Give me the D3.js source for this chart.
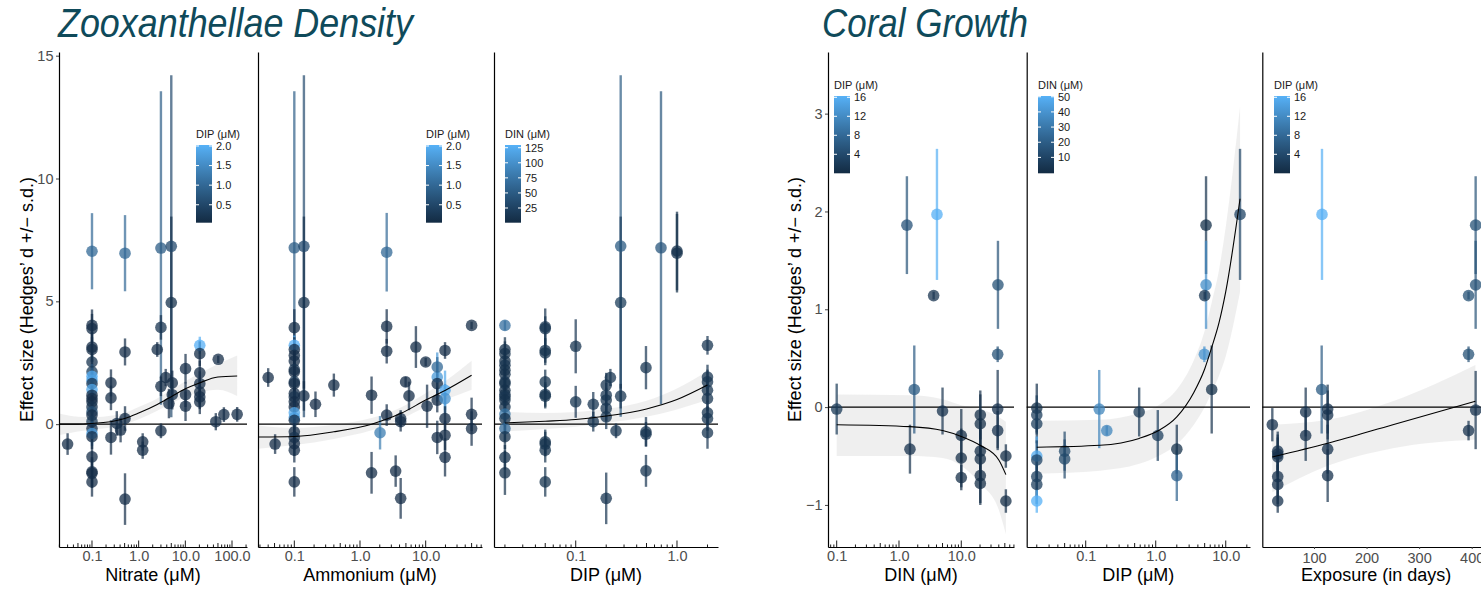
<!DOCTYPE html>
<html>
<head>
<meta charset="utf-8">
<script src="https://cdn.jsdelivr.net/npm/d3@7"></script>
<style>
  body { margin: 0; background: #fff; }
  svg { display: block; }
  text { font-family: "Liberation Sans", Arial, sans-serif; }
</style>
</head>
<body>
<svg id="chart" width="1481" height="589"></svg>
<script>
// ---------- data: Zooxanthellae density ----------
// nitrate panel (colour = DIP)
const nitrateX = [0.1,0.51,3.0,5.0,5.0,
  0.1,0.1,0.1,0.1,0.1,0.1,0.1,0.1,0.1,0.1,0.1,0.1,0.1,0.1,0.1,0.1,0.1,0.1,0.1,0.1,0.1,0.1,0.1,0.1,
  0.03,0.255,0.255,0.255,0.34,0.41,0.51,0.51,0.51,1.22,1.22,2.5,3.0,3.0,3.0,3.8,4.45,5.25,5.25,
  10.1,10.1,10.1,20.4,20.4,20.4,20.4,20.4,20.4,20.4,50.7,45,67,129];
const nitrateES = [7.04,6.96,7.17,7.24,4.95,
  4.02,3.89,3.14,3.04,2.53,2.13,1.95,1.79,1.65,1.41,1.18,1.04,0.91,0.70,0.50,0.37,0.10,-0.18,-0.38,-0.51,-1.33,-1.94,-2.0,-2.35,
  -0.81,1.68,1.07,-0.54,0.03,-0.24,0.23,2.94,-3.05,-0.72,-1.06,3.04,3.94,1.54,-0.27,1.9,0.84,1.68,1.2,
  2.26,1.2,0.73,3.21,2.87,2.09,1.65,1.31,1.11,0.91,2.64,0.1,0.39,0.4];
const nitrateSD = [1.55,1.55,6.38,6.96,3.5,
  0.65,0.6,0.6,0.5,0.5,0.5,0.5,0.5,0.5,0.5,0.5,0.5,0.5,0.5,0.5,0.5,0.5,0.5,0.5,0.5,0.6,0.6,0.6,0.6,
  0.44,0.55,0.5,0.7,0.5,0.5,0.5,0.55,1.05,0.35,0.35,0.3,0.5,0.4,0.3,0.35,0.6,0.5,0.6,
  0.6,0.5,0.6,0.35,0.5,0.5,0.5,0.5,0.5,0.5,0.15,0.35,0.3,0.3];
const nitrateDIP = [1.0,1.0,0.85,0.55,0.15,
  0.1,0.1,0.1,0.1,0.2,0.3,2.0,1.8,0.2,1.9,0.1,0.1,0.1,0.2,0.6,0.1,0.3,0.1,1.8,0.1,0.1,0.1,0.1,0.1,
  0.1,0.1,0.1,0.1,0.1,0.1,0.1,0.1,0.1,0.1,0.1,0.1,0.2,0.1,0.1,0.1,0.1,0.1,0.1,
  0.1,0.1,0.1,2.0,0.1,0.1,0.1,0.1,0.1,0.1,0.1,0.1,0.1,0.1];
const nitrateFitX = [0.0196,0.05,0.1,0.3,0.5,1,2.5,5,10,20,50,129];
const nitrateFit  = [0.0,0.0,0.03,0.13,0.23,0.45,0.8,1.12,1.44,1.68,1.92,1.96];
const nitrateLo   = [-0.45,-0.3,-0.22,-0.1,0.0,0.2,0.55,0.85,1.12,1.3,1.4,1.15];
const nitrateHi   = [0.43,0.3,0.28,0.36,0.46,0.7,1.05,1.4,1.75,2.05,2.45,2.8];

// ammonium panel (colour = DIP)
const ammoniumX = [0.1,0.14,0.14,2.55,
  0.1,0.1,0.1,0.1,0.1,0.1,0.1,0.1,0.1,0.1,0.1,0.1,0.1,0.1,0.1,0.1,0.1,0.1,0.1,0.1,0.1,
  0.04,0.051,0.14,0.21,0.40,1.5,1.5,2.02,2.55,2.55,2.55,3.49,4.16,4.16,4.16,4.95,5.57,7.1,10.0,10.5,
  15,15,15,15,15,19.7,19.7,19.7,19.7,19.7,19.7,50,50,50];
const ammoniumES = [7.18,7.24,4.95,7.0,
  3.93,3.21,3.04,2.8,2.57,2.22,2.13,1.72,1.65,1.25,1.11,0.91,0.70,0.46,0.27,0.16,-0.31,-0.54,-0.79,-1.06,-2.35,
  1.9,-0.81,1.15,0.81,1.59,1.18,-1.98,-0.35,3.98,2.97,0.37,-1.91,-3.02,0.23,0.1,1.72,1.15,3.14,2.53,0.73,
  1.92,2.33,1.65,0.98,-0.54,3.0,1.38,1.04,0.23,-0.45,-1.35,4.02,0.4,-0.18];
const ammoniumSD = [6.37,6.96,3.5,1.6,
  0.75,0.4,0.5,0.5,0.5,0.5,0.5,0.5,0.5,0.5,0.5,0.5,0.5,0.5,0.5,0.5,0.5,0.5,0.5,0.5,0.6,
  0.38,0.4,0.6,0.52,0.47,0.76,0.85,0.68,0.7,0.5,0.44,0.64,0.83,0.34,0.4,0.2,0.58,0.85,0.17,0.88,
  1.0,0.4,0.5,0.5,0.68,0.34,0.8,0.6,0.5,0.6,0.78,0.15,0.68,0.7];
const ammoniumDIP = [0.85,0.55,0.15,1.0,
  0.1,2.0,0.1,0.1,0.1,0.2,0.1,0.3,0.1,0.1,0.2,0.1,0.1,1.9,1.8,0.1,0.1,0.2,0.1,0.1,0.1,
  0.1,0.1,0.1,0.1,0.1,0.1,0.1,1.3,0.1,0.1,0.1,0.1,0.1,0.1,0.1,0.1,0.1,0.1,0.1,0.1,
  1.7,1.0,0.1,0.1,0.1,0.1,1.9,1.6,0.1,0.1,0.1,0.1,0.1,0.1];
const ammoniumFitX = [0.028,0.1,0.4,1.5,4.2,10,20,50];
const ammoniumFit  = [-0.52,-0.5,-0.31,0.0,0.44,0.98,1.38,1.99];
const ammoniumLo   = [-1.0,-0.85,-0.6,-0.25,0.2,0.7,1.0,1.4];
const ammoniumHi   = [-0.05,-0.15,-0.02,0.25,0.68,1.26,1.76,2.58];

// DIP panel (colour = DIN)
const zDipX = [0.278,0.278,0.695,1.0,1.0,
  0.02,0.02,0.02,0.02,0.02,0.02,0.02,0.02,0.02,0.02,0.02,0.02,0.02,0.02,0.02,0.02,0.02,0.02,0.02,0.02,
  0.05,0.05,0.05,0.05,0.05,0.05,0.05,0.05,0.05,0.05,0.05,
  0.1,0.1,0.149,0.149,0.2,0.2,0.2,0.2,0.2,0.2,0.22,0.25,0.278,0.494,0.494,0.494,0.494,
  2.0,2.0,2.0,2.0,2.0,2.0,2.0,2.0];
const zDipES = [7.25,4.95,7.18,7.05,6.96,
  4.02,3.04,2.87,2.57,2.4,2.2,2.03,1.72,1.65,1.38,1.21,1.11,0.98,0.7,0.41,0.23,-0.18,-0.51,-1.35,-1.98,
  3.96,3.89,3.0,2.9,1.72,1.21,1.14,-0.72,-0.81,-1.06,-2.35,
  3.17,0.91,0.81,0.1,1.59,1.18,0.98,0.64,0.3,-3.02,1.9,-0.27,1.14,2.3,-0.31,-0.41,-1.9,
  3.21,1.92,1.72,1.38,1.04,0.46,0.23,-0.35];
const zDipSD = [6.95,3.5,6.37,1.6,1.6,
  0.2,0.5,0.5,0.5,0.5,0.5,0.5,0.5,0.5,0.5,0.5,0.5,0.5,0.5,0.5,0.5,0.5,0.5,0.5,0.9,
  0.75,0.5,0.5,0.5,0.5,0.5,0.5,0.5,0.5,0.5,0.6,
  1.1,0.65,0.5,0.4,0.5,0.5,0.5,0.5,0.5,1.05,0.35,0.3,0.5,0.88,0.6,0.5,0.65,
  0.38,0.5,0.5,0.5,0.5,0.5,0.5,0.65];
const zDipDIN = [50,20,45,8,8,
  70,8,8,8,12,8,8,12,8,8,8,12,8,8,75,8,65,8,8,8,
  12,12,10,10,10,12,10,10,10,10,10,
  12,12,12,12,12,12,12,12,12,12,12,12,12,12,12,12,12,
  12,12,12,12,12,12,12,12];
const zDipFitX = [0.02,0.05,0.1,0.2,0.5,1.0,2.0];
const zDipFit  = [0.05,0.12,0.19,0.33,0.62,1.0,1.59];
const zDipLo   = [-0.3,-0.2,-0.1,0.05,0.3,0.6,0.98];
const zDipHi   = [0.5,0.45,0.5,0.62,0.95,1.45,2.15];

// ---------- data: Coral growth ----------
// DIN panel (colour = DIP)
const gDinX = [1.34,4.07,3.6,38.8,0.1,1.5,1.76,5.0,10,10,10,20.2,20.2,20.2,20.2,20.2,20.2,38.4,38.4,38.4,52,52];
const gDinES = [1.86,1.97,1.14,1.25,-0.02,-0.43,0.18,-0.04,-0.29,-0.52,-0.72,-0.08,-0.17,-0.45,-0.53,-0.7,-0.78,-0.02,-0.24,0.54,-0.5,-0.96];
const gDinSD = [0.5,0.67,0.04,0.45,0.26,0.25,0.45,0.24,0.27,0.3,0.13,0.25,0.3,0.3,0.3,0.3,0.2,0.4,0.2,0.08,0.12,0.12];
const gDinDIP = [5.2,16,1.5,5,2,1,6,1,0.5,0.5,0.5,0.5,0.5,0.5,0.5,0.5,0.5,1,1,5,0.5,0.5];
const gDinFitX = [0.1,1.5,5,10,20,40,52];
const gDinFit  = [-0.18,-0.2,-0.24,-0.3,-0.39,-0.54,-0.69];
const gDinLo   = [-0.5,-0.5,-0.52,-0.6,-0.78,-1.05,-1.3];
const gDinHi   = [0.13,0.12,0.08,0.02,-0.02,-0.1,-0.15];

// DIP panel (colour = DIN)
const gDipX = [5.23,5.23,5.0,16.0,0.02,0.02,0.02,0.02,0.02,0.02,0.02,0.02,0.05,0.05,0.156,0.2,0.58,1.07,2.0,2.0,4.95,6.3];
const gDipES = [1.86,1.25,1.14,1.97,-0.01,-0.08,-0.17,-0.5,-0.54,-0.71,-0.79,-0.96,-0.45,-0.53,-0.02,-0.24,-0.05,-0.29,-0.43,-0.7,0.54,0.18];
const gDipSD = [0.5,0.45,0.04,0.67,0.25,0.2,0.2,0.2,0.2,0.2,0.2,0.12,0.2,0.2,0.4,0.05,0.25,0.26,0.25,0.26,0.08,0.45];
const gDipDIN = [2,38,4,10,2,8,8,48,10,8,8,50,12,12,35,35,5,8,2,22,40,2];
const gDipFitX = [0.02,0.16,0.58,1.1,2.0,3.5,5.0,6.3,8,10,16];
const gDipFit  = [-0.41,-0.39,-0.32,-0.24,-0.1,0.15,0.39,0.61,0.86,1.18,2.13];
const gDipLo   = [-0.68,-0.65,-0.58,-0.5,-0.38,-0.18,0.0,0.15,0.32,0.52,1.18];
const gDipHi   = [-0.14,-0.13,-0.06,0.02,0.18,0.48,0.78,1.07,1.4,1.84,3.07];

// exposure panel (colour = DIP)
const gExpX = [115.2,407.5,407.5,394,394,394,407.5,20.7,31,31,31,31,31,31,84.2,84.2,114.6,126,126,126,126];
const gExpES = [1.97,1.86,1.25,1.14,0.54,-0.24,-0.03,-0.18,-0.45,-0.48,-0.51,-0.71,-0.79,-0.96,-0.05,-0.29,0.18,-0.02,-0.08,-0.43,-0.7];
const gExpSD = [0.67,0.5,0.45,0.04,0.08,0.1,0.4,0.17,0.2,0.2,0.2,0.2,0.2,0.12,0.25,0.26,0.45,0.25,0.25,0.25,0.27];
const gExpDIP = [16,5,5,5,5,1,1,1,1,1,1,1,1,1,1,1,6,1,1,1,1];
const gExpFitX = [20.7,126,250,407];
const gExpFit  = [-0.51,-0.37,-0.18,0.06];
const gExpLo   = [-0.87,-0.6,-0.42,-0.33];
const gExpHi   = [-0.18,-0.13,0.06,0.43];

// ---------- layout ----------
const svg = d3.select('#chart');
const TOP = 52, BOTTOM = 547;
const yLeft  = d3.scaleLinear().domain([-5.0, 15.15]).range([BOTTOM, TOP]);
const yRight = d3.scaleLinear().domain([-1.43, 3.63]).range([BOTTOM, TOP]);
const LOW = '#132B43', HIGH = '#56B1F7';

const panels = [
  { xs: nitrateX, es: nitrateES, sd: nitrateSD, cv: nitrateDIP,
    fit: [nitrateFitX, nitrateFit, nitrateLo, nitrateHi],
    log: true, dom: [0.01963, 209.6], range: [59, 247], y: yLeft,
    ticks: [0.1, 1, 10, 100], fmt: d3.format('.1f'), xlab: 'Nitrate (\u03bcM)',
    yticks: [0, 5, 10, 15],
    leg: { title: 'DIP (\u03bcM)', x: 196, top: 145, bot: 222.7, cdom: [0.042, 2.025], vals: [0.5, 1.0, 1.5, 2.0], fmt: d3.format('.1f') } },
  { xs: ammoniumX, es: ammoniumES, sd: ammoniumSD, cv: ammoniumDIP,
    fit: [ammoniumFitX, ammoniumFit, ammoniumLo, ammoniumHi],
    log: true, dom: [0.028, 72], range: [258, 482], y: yLeft,
    ticks: [0.1, 1, 10], fmt: d3.format('.1f'), xlab: 'Ammonium (\u03bcM)',
    leg: { title: 'DIP (\u03bcM)', x: 426, top: 145, bot: 222.7, cdom: [0.042, 2.025], vals: [0.5, 1.0, 1.5, 2.0], fmt: d3.format('.1f') } },
  { xs: zDipX, es: zDipES, sd: zDipSD, cv: zDipDIN,
    fit: [zDipFitX, zDipFit, zDipLo, zDipHi],
    log: true, dom: [0.0156, 2.54], range: [494, 718], y: yLeft,
    ticks: [0.1, 1], fmt: d3.format('.1f'), xlab: 'DIP (\u03bcM)',
    leg: { title: 'DIN (\u03bcM)', x: 505, top: 145, bot: 222.7, cdom: [0.6, 129.5], vals: [25, 50, 75, 100, 125], fmt: d3.format('d') } },
  { xs: gDinX, es: gDinES, sd: gDinSD, cv: gDinDIP,
    fit: [gDinFitX, gDinFit, gDinLo, gDinHi],
    log: true, dom: [0.0725, 70.2], range: [828, 1014], y: yRight,
    ticks: [0.1, 1, 10], fmt: d3.format('.1f'), xlab: 'DIN (\u03bcM)',
    yticks: [-1, 0, 1, 2, 3],
    leg: { title: 'DIP (\u03bcM)', x: 834, top: 96, bot: 173.3, cdom: [0, 16.27], vals: [4, 8, 12, 16], fmt: d3.format('d') } },
  { xs: gDipX, es: gDipES, sd: gDipSD, cv: gDipDIN,
    fit: [gDipFitX, gDipFit, gDipLo, gDipHi],
    log: true, dom: [0.01436, 22.2], range: [1026.7, 1250], y: yRight,
    ticks: [0.1, 1, 10], fmt: d3.format('.1f'), xlab: 'DIP (\u03bcM)',
    leg: { title: 'DIN (\u03bcM)', x: 1038, top: 96, bot: 173.3, cdom: [-0.5, 50.5], vals: [10, 20, 30, 40, 50], fmt: d3.format('d') } },
  { xs: gExpX, es: gExpES, sd: gExpSD, cv: gExpDIP,
    fit: [gExpFitX, gExpFit, gExpLo, gExpHi],
    log: false, dom: [1.65, 434.8], range: [1262.3, 1490], y: yRight,
    ticks: [100, 200, 300, 400], fmt: d3.format('d'), xlab: 'Exposure (in days)',
    leg: { title: 'DIP (\u03bcM)', x: 1274, top: 96, bot: 173.3, cdom: [0, 16.27], vals: [4, 8, 12, 16], fmt: d3.format('d') } }
];

const defs = svg.append('defs');

panels.forEach((p, pi) => {
  const g = svg.append('g');
  const x = (p.log ? d3.scaleLog() : d3.scaleLinear()).domain(p.dom).range(p.range);
  const y = p.y;
  const col = d3.scaleLinear().domain(p.leg.cdom).range([LOW, HIGH]).interpolate(d3.interpolateLab).clamp(true);

  // smooth band
  const sm = p.fit[0].map((v, i) => ({ x: v, f: p.fit[1][i], lo: p.fit[2][i], hi: p.fit[3][i] }));
  g.append('path').datum(sm)
    .attr('d', d3.area().x(d => x(d.x)).y0(d => y(d.lo)).y1(d => y(d.hi)).curve(d3.curveMonotoneX))
    .attr('fill', '#ececec').attr('fill-opacity', 0.85);

  // zero line
  g.append('line')
    .attr('x1', p.range[0]).attr('x2', p.range[1])
    .attr('y1', y(0)).attr('y2', y(0))
    .attr('stroke', '#000').attr('stroke-width', 1.1);

  // point ranges
  const pts = p.xs.map((v, i) => ({ x: v, d: p.es[i], sd: p.sd[i], c: p.cv[i] }));
  g.selectAll('line.eb').data(pts).join('line').attr('class', 'eb')
    .attr('x1', d => x(d.x)).attr('x2', d => x(d.x))
    .attr('y1', d => y(Math.min(d.d + d.sd, y.domain()[1])))
    .attr('y2', d => y(Math.max(d.d - d.sd, y.domain()[0])))
    .attr('stroke', d => col(d.c)).attr('stroke-width', 2.4).attr('stroke-opacity', 0.7);
  g.selectAll('circle').data(pts).join('circle')
    .attr('cx', d => x(d.x)).attr('cy', d => y(d.d)).attr('r', 5.8)
    .attr('fill', d => col(d.c)).attr('fill-opacity', 0.75);

  // fitted line
  g.append('path').datum(sm)
    .attr('d', d3.line().x(d => x(d.x)).y(d => y(d.f)).curve(d3.curveMonotoneX))
    .attr('fill', 'none').attr('stroke', '#000').attr('stroke-width', 1.1);

  // x axis
  const xa = g.append('g').attr('transform', `translate(0,${BOTTOM})`)
    .call(d3.axisBottom(x).tickValues(p.ticks).tickFormat(p.fmt).tickSizeInner(p.log ? 0 : 2).tickSizeOuter(0).tickPadding(3.5));
  xa.select('.domain').attr('stroke', '#000').attr('stroke-width', 1.2);
  xa.selectAll('.tick line').attr('stroke', '#444');
  xa.selectAll('text').attr('font-size', 14.5).attr('fill', '#4d4d4d').attr('font-family', '"Liberation Sans", Arial, sans-serif');

  // log ticks (inside, like annotation_logticks)
  if (p.log) {
    const lt = [];
    for (let k = -3; k <= 3; k++) {
      for (let m = 1; m <= 9; m++) {
        const v = m * Math.pow(10, k);
        if (v >= p.dom[0] && v <= p.dom[1]) lt.push({ v, len: m === 1 ? 6.5 : (m === 5 ? 4 : 2.5) });
      }
    }
    g.selectAll('line.lt').data(lt).join('line').attr('class', 'lt')
      .attr('x1', d => x(d.v)).attr('x2', d => x(d.v))
      .attr('y1', BOTTOM).attr('y2', d => BOTTOM - d.len)
      .attr('stroke', '#000').attr('stroke-width', 0.9);
  }

  // y axis
  const ya = g.append('g').attr('transform', `translate(${p.range[0]},0)`)
    .call(d3.axisLeft(y).tickValues(p.yticks || []).tickFormat(d => d < 0 ? '\u2212' + Math.abs(d) : d)
      .tickSizeInner(3).tickSizeOuter(0).tickPadding(2.5));
  ya.select('.domain').attr('stroke', '#000').attr('stroke-width', 1.2);
  ya.selectAll('.tick line').attr('stroke', '#444');
  ya.selectAll('text').attr('font-size', 14.5).attr('fill', '#4d4d4d').attr('font-family', '"Liberation Sans", Arial, sans-serif');

  // x title
  g.append('text')
    .attr('x', (p.range[0] + p.range[1]) / 2).attr('y', 581)
    .attr('text-anchor', 'middle').attr('font-size', 18).attr('fill', '#000')
    .text(p.xlab);

  // colour bar legend
  const L = p.leg;
  const gid = 'grad' + pi;
  const grad = defs.append('linearGradient').attr('id', gid)
    .attr('x1', 0).attr('x2', 0).attr('y1', 1).attr('y2', 0);
  d3.range(0, 1.0001, 0.1).forEach(t => {
    grad.append('stop').attr('offset', t).attr('stop-color', d3.interpolateLab(LOW, HIGH)(t));
  });
  const ly = d3.scaleLinear().domain(L.cdom).range([L.bot, L.top]);
  const lg = svg.append('g');
  lg.append('rect').attr('x', L.x).attr('y', L.top).attr('width', 16).attr('height', L.bot - L.top)
    .attr('fill', `url(#${gid})`);
  L.vals.forEach(v => {
    lg.append('line').attr('x1', L.x).attr('x2', L.x + 3).attr('y1', ly(v)).attr('y2', ly(v))
      .attr('stroke', '#fff').attr('stroke-width', 1);
    lg.append('line').attr('x1', L.x + 13).attr('x2', L.x + 16).attr('y1', ly(v)).attr('y2', ly(v))
      .attr('stroke', '#fff').attr('stroke-width', 1);
    lg.append('text').attr('x', L.x + 20).attr('y', ly(v)).attr('dy', '0.35em')
      .attr('font-size', 11).attr('fill', '#1a1a1a').text(L.fmt(v));
  });
  lg.append('text').attr('x', L.x).attr('y', L.top - 7)
    .attr('font-size', 11).attr('fill', '#1a1a1a').text(L.title);
});

// y titles
[33, 801].forEach(bx => {
  svg.append('text')
    .attr('transform', `translate(${bx},${(TOP + BOTTOM) / 2}) rotate(-90)`)
    .attr('text-anchor', 'middle').attr('font-size', 18).attr('fill', '#000')
    .text('Effect size (Hedges\u2019 d +/\u2212 s.d.)');
});

// group titles
svg.append('text').attr('x', 58).attr('y', 37)
  .attr('font-family', 'Lato, "Open Sans", sans-serif').attr('font-style', 'italic')
  .attr('font-size', 40).attr('fill', '#0f4a5a')
  .attr('textLength', 355).attr('lengthAdjust', 'spacingAndGlyphs')
  .text('Zooxanthellae Density');
svg.append('text').attr('x', 822).attr('y', 37)
  .attr('font-family', 'Lato, "Open Sans", sans-serif').attr('font-style', 'italic')
  .attr('font-size', 40).attr('fill', '#0f4a5a')
  .attr('textLength', 206).attr('lengthAdjust', 'spacingAndGlyphs')
  .text('Coral Growth');
</script>
</body>
</html>
